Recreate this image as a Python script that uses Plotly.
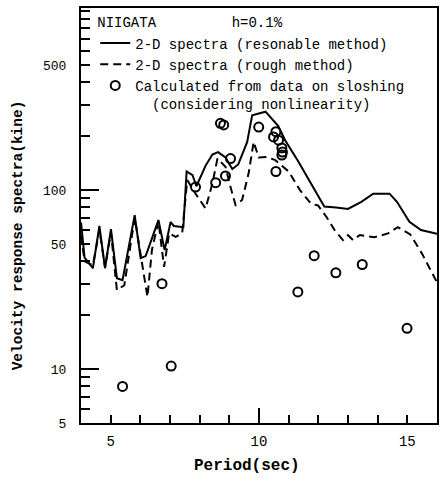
import plotly.graph_objects as go

# ---- data ----
solid_period = [4.0, 4.12, 4.4, 4.62, 4.81, 5.01, 5.21, 5.40, 5.81, 6.01, 6.18, 6.61, 6.82, 7.02, 7.13, 7.45,
                7.56, 7.76, 7.89, 8.20, 8.43, 8.62, 8.87, 9.10, 9.30, 9.60, 9.77, 9.99, 10.22, 10.65, 10.88,
                11.33, 11.78, 12.2, 12.6, 13.0, 13.45, 13.85, 14.4, 14.65, 15.07, 15.46, 16.0]
solid_vel = [66, 42, 36.6, 63, 36.6, 60.5, 32.2, 31.4, 72.5, 41.7, 42.8, 68, 46.2, 66.3, 63, 62,
             127, 121, 105, 137, 158, 163, 152, 131, 139, 185, 262, 268, 274, 228, 190,
             144, 106, 81, 80, 78.5, 86, 95.5, 95.5, 86, 66.5, 59.8, 57]

dash_period = [4.0, 4.12, 4.4, 4.62, 4.81, 5.01, 5.21, 5.46, 5.81, 6.24, 6.39, 6.61, 6.8, 6.97, 7.19, 7.41,
               7.58, 7.85, 8.2, 8.43, 8.6, 8.87, 9.04, 9.21, 9.43, 9.65, 9.82, 9.99, 10.25, 10.55, 11.0,
               11.38, 11.75, 11.99, 12.27, 12.55, 12.83, 13.0, 13.17, 13.4, 13.89, 14.35, 14.68, 15.1,
               15.5, 16.0]
dash_vel = [56, 40, 38, 60, 37, 58, 27.6, 29.4, 70, 25.3, 46.2, 67, 37.2, 57.3, 54.8, 57.3,
            114, 96, 79, 109, 150, 135, 104, 82.4, 88, 124, 186, 152, 153, 147, 127,
            100, 84, 82, 71, 59.8, 52.6, 56, 52.6, 56.1, 54.5, 57.3, 62, 56.5,
            44, 30.5]

calc_period = [5.40, 6.73, 7.04, 7.86, 8.54, 8.70, 8.81, 8.87, 9.04, 9.99, 10.49, 10.57, 10.66,
               10.77, 10.79, 10.77, 10.57, 11.31, 11.86, 12.59, 13.48, 14.99]
calc_vel = [8.0, 30, 10.4, 104, 110, 236, 231, 120, 150, 225, 198, 212, 190,
            172, 163, 157, 127, 27, 43, 34.5, 38.4, 16.9]

x_ticks = [5, 6, 7, 8, 9, 10, 11, 12, 13, 14, 15]
x_labels = ["5", "", "", "", "", "10", "", "", "", "", "15"]
y_ticks = [5, 6, 7, 8, 9, 10, 20, 30, 40, 50, 60, 70, 80, 90, 100, 200, 300, 400, 500, 600, 700, 800, 900, 1000]
y_labels = ["5", "", "", "", "", "10", "", "", "", "50", "", "", "", "", "100", "", "", "", "500", "", "", "", "", ""]
major_x = [10]
major_y = [10, 100]

FONT = "Liberation Mono, DejaVu Sans Mono, monospace"
XR = [4, 16]
YR = [0.69897, 3.017]

fig = go.Figure()
fig.add_trace(go.Scatter(x=solid_period, y=solid_vel, mode="lines",
                         line=dict(color="black", width=2),
                         name="2-D spectra (resonable method)"))
fig.add_trace(go.Scatter(x=dash_period, y=dash_vel, mode="lines",
                         line=dict(color="black", width=2, dash="8px,5px"),
                         name="2-D spectra (rough method)"))
fig.add_trace(go.Scatter(x=calc_period, y=calc_vel, mode="markers",
                         marker=dict(symbol="circle-open", size=9, color="black", line=dict(width=2)),
                         name="Calculated from data on sloshing<br>\u00a0\u00a0(considering nonlinearity)"))
# empty trace to register overlay axes for long major ticks
fig.add_trace(go.Scatter(x=[], y=[], xaxis="x2", yaxis="y2", showlegend=False, hoverinfo="skip"))

fig.update_layout(
    width=441, height=481,
    margin=dict(l=81, r=2, t=8, b=58),
    paper_bgcolor="white", plot_bgcolor="white",
    font=dict(family=FONT, color="black", size=13),
    showlegend=True,
    legend=dict(x=0.04, y=0.997, xanchor="left", yanchor="top",
                bgcolor="rgba(0,0,0,0)", borderwidth=0,
                font=dict(family=FONT, size=14, color="black"),
                title=dict(text="NIIGATA" + "\u00a0" * 9 + "h=0.1%", font=dict(family=FONT, size=14)),
                valign="top", tracegroupgap=0),
    xaxis=dict(range=XR, showline=True, mirror=True, linecolor="black", linewidth=2,
               ticks="inside", tickvals=x_ticks, ticktext=x_labels, ticklen=8, tickwidth=2,
               tickcolor="black", showgrid=False, zeroline=False,
               tickfont=dict(family=FONT, size=14), ticklabelstandoff=4),
    yaxis=dict(type="log", range=YR, showline=True, mirror=True, linecolor="black", linewidth=2,
               ticks="inside", tickvals=y_ticks, ticktext=y_labels, ticklen=9, tickwidth=2,
               tickcolor="black", showgrid=False, zeroline=False,
               tickfont=dict(family=FONT, size=13), ticklabelstandoff=10),
    xaxis2=dict(range=XR, overlaying="x", anchor="y2", side="bottom", showline=False,
                ticks="inside", tickvals=major_x, ticklen=15, tickwidth=2, tickcolor="black",
                showticklabels=False, showgrid=False, zeroline=False),
    yaxis2=dict(type="log", range=YR, overlaying="y", anchor="x2", side="left", showline=False,
                ticks="inside", tickvals=major_y, ticklen=18, tickwidth=2, tickcolor="black",
                showticklabels=False, showgrid=False, zeroline=False),
    annotations=[
        dict(text="Velocity response spectra(kine)", xref="paper", yref="paper",
             x=-0.176, y=0.453, xanchor="center", yanchor="middle", textangle=-90,
             showarrow=False, font=dict(family=FONT, size=14.5, weight="bold")),
        dict(text="Period(sec)", xref="paper", yref="paper",
             x=0.466, y=-0.104, xanchor="center", yanchor="middle",
             showarrow=False, font=dict(family=FONT, size=16, weight="bold")),
    ],
)

fig.write_html("out.html")
